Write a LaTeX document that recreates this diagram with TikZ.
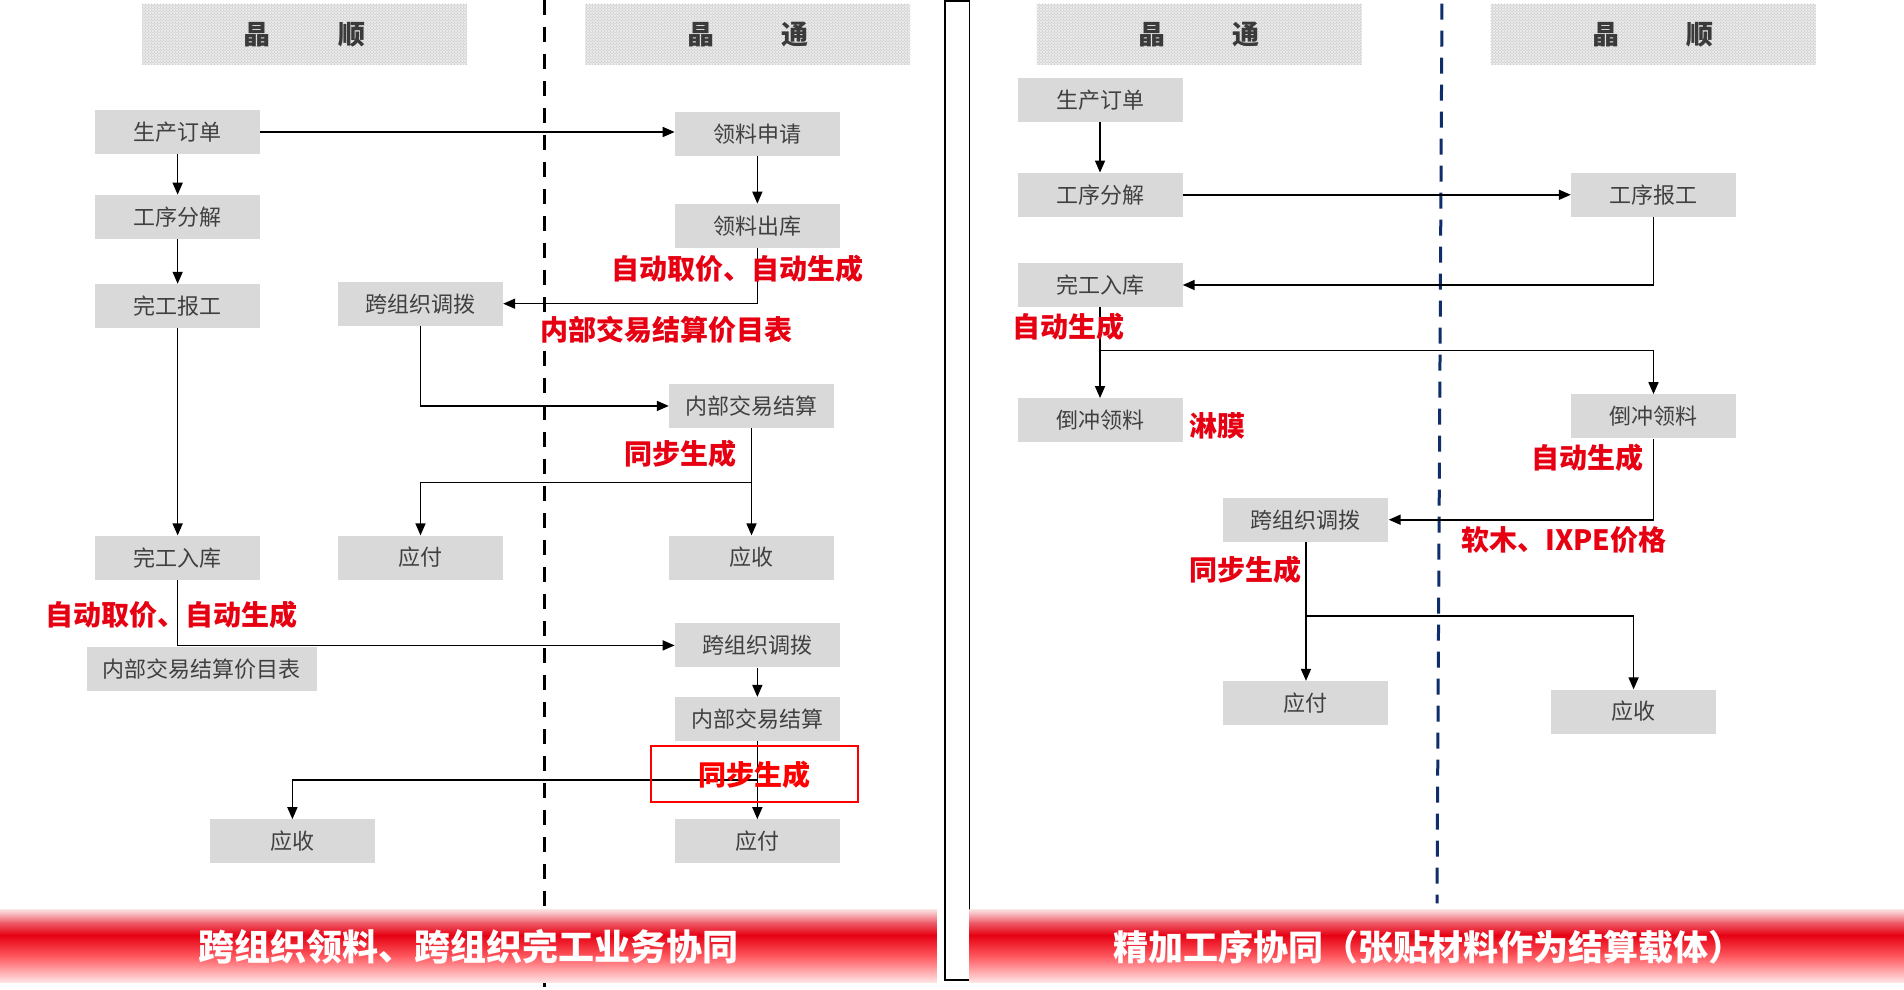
\documentclass[tikz,border=0pt]{standalone}
\usepackage{fontspec}
\setmainfont{Noto Sans CJK SC}
\usetikzlibrary{arrows.meta,patterns}
\definecolor{boxgray}{HTML}{D9D9D9}
\definecolor{txtgray}{HTML}{404040}
\definecolor{lblred}{HTML}{E60012}
\definecolor{navyline}{HTML}{0F2D69}
\definecolor{hdrbase}{HTML}{E9E9E9}
\definecolor{hdrdot}{HTML}{B4B4B4}
\definecolor{hdrtxt}{HTML}{3A3A3A}
\definecolor{barA}{HTML}{FBE6E8}
\definecolor{barB}{HTML}{EE5A68}
\definecolor{barC}{HTML}{E60012}
\definecolor{barD}{HTML}{FF5C62}
\definecolor{barE}{HTML}{FFE2E2}
\tikzset{
  box/.style={fill=boxgray, text=txtgray, minimum width=165pt, minimum height=44pt, inner sep=0pt, font=\fontsize{22}{22}\selectfont},
  hdr/.style={fill=hdrbase, postaction={pattern=crosshatch dots, pattern color=hdrdot}, minimum width=325pt, minimum height=61pt, inner sep=0pt, text=hdrtxt, font=\fontsize{27}{27}\selectfont\bfseries},
  lbl/.style={text=lblred, font=\fontsize{28}{28}\selectfont\bfseries, inner sep=0pt},
  conn/.style={draw=black, line width=1.6pt, -{Triangle[length=12pt,width=10pt]}},
  wire/.style={draw=black, line width=1.6pt},
  bartxt/.style={text=white, font=\fontsize{36}{36}\selectfont\bfseries, inner sep=0pt},
}
\begin{document}
\begin{tikzpicture}[x=1.2143pt,y=-1.2143pt]
\useasboundingbox (0,0) rectangle (1568,815);
\fill[white] (0,0) rectangle (1568,815);

% headers
\node[hdr] (h1) at (250.6,28.4) {晶\hspace{2.5em}顺};
\node[hdr] (h2) at (615.8,28.4) {晶\hspace{2.5em}通};
\node[hdr] (h3) at (987.5,28.4) {晶\hspace{2.5em}通};
\node[hdr] (h4) at (1361.3,28.4) {晶\hspace{2.5em}顺};

% separators
\draw[line width=3pt, dash pattern=on 15pt off 12pt] (448.8,0) coordinate (sl1) -- (448.8,815) coordinate (sl2);
\draw[line width=3pt, navyline, dash pattern=on 16pt off 11pt] (1187.5,3) coordinate (sr1) -- (1183.4,744) coordinate (sr2);
\draw[line width=1.5pt] (778.2,0.8) rectangle (798.4,807);

% left panel boxes
\node[box] (A1) at (146.3,108.7) {生产订单};
\node[box] (A2) at (146.3,178.6) {工序分解};
\node[box] (A3) at (146.3,252) {完工报工};
\node[box] (A4) at (146.3,459.2) {完工入库};
\node[box, minimum width=229.6pt] (A5) at (166.2,551.3) {内部交易结算价目表};
\node[box] (B1) at (346.3,250.1) {跨组织调拨};
\node[box] (B2) at (346.3,459.2) {应付};
\node[box] (B3) at (240.8,692.9) {应收};
\node[box] (C1) at (623.7,110.1) {领料申请};
\node[box] (C2) at (623.7,186) {领料出库};
\node[box] (C3) at (618.9,334.3) {内部交易结算};
\node[box] (C4) at (618.9,459.2) {应收};
\node[box] (C5) at (623.7,531.5) {跨组织调拨};
\node[box] (C6) at (623.7,592.2) {内部交易结算};
\node[box] (C7) at (623.7,692.9) {应付};

% left connectors
\draw[conn] (A1.east) -- (A1.east -| C1.west);
\draw[conn] (A1.south) -- (A2.north);
\draw[conn] (A2.south) -- (A3.north);
\draw[conn] (A3.south) -- (A4.north);
\draw[conn] (C1.south) -- (C2.north);
\draw[conn] (C2.south) |- (B1.east);
\draw[conn] (B1.south) |- (C3.west);
\draw[conn] (C3.south) -- (C4.north);
\coordinate (j1) at (618.9,397.2);
\draw[conn] (j1) -| (B2.north);
\draw[conn] (A4.south) |- (C5.west);
\draw[conn] (C5.south) -- (C6.north);
\draw[conn] (C6.south) -- (C7.north);
\coordinate (j2) at (623.7,642.4);
\draw[conn] (j2) -| (B3.north);

% left labels
\node[lbl] (L1) at (607,221) {自动取价、自动生成};
\node[lbl] (L2) at (549,272) {内部交易结算价目表};
\node[lbl] (L3) at (560,374) {同步生成};
\node[lbl] (L4) at (141.5,506) {自动取价、自动生成};
\node[lbl, text=red] (L5) at (621,638.5) {同步生成};
\node[draw=red, line width=1.6pt, minimum width=207pt, minimum height=55.7pt, inner sep=0pt] (L5box) at (621.1,637.3) {};

% right panel boxes
\node[box] (D1) at (905.9,82.6) {生产订单};
\node[box] (D2) at (905.9,160.4) {工序分解};
\node[box] (D3) at (905.9,234.7) {完工入库};
\node[box] (D4) at (905.9,346.1) {倒冲领料};
\node[box] (E1) at (1361.7,160.4) {工序报工};
\node[box] (E2) at (1361.7,342.9) {倒冲领料};
\node[box] (F1) at (1075.5,428) {跨组织调拨};
\node[box] (F2) at (1075.5,579) {应付};
\node[box] (F3) at (1345.3,586) {应收};

% right connectors
\draw[conn] (D1.south) -- (D2.north);
\draw[conn] (D2.east) -- (E1.west);
\draw[conn] (E1.south) |- (D3.east);
\draw[conn] (D3.south) -- (D4.north);
\coordinate (j3) at (905.9,288.8);
\draw[conn] (j3) -| (E2.north);
\draw[conn] (E2.south) |- (F1.east);
\draw[conn] (F1.south) -- (F2.north);
\coordinate (j4) at (1075.5,507.4);
\draw[conn] (j4) -| (F3.north);

% right labels
\node[lbl] (R1) at (880,269) {自动生成};
\node[lbl] (R2) at (1003,351) {淋膜};
\node[lbl] (R3) at (1307,377) {自动生成};
\node[lbl] (R4) at (1288,445) {软木、IXPE价格};
\node[lbl] (R5) at (1026,469) {同步生成};

% bottom bars
\foreach \xa/\xb in {0/771.6, 798.4/1568} {
  \shade[top color=barA, bottom color=barB] (\xa,748.6) rectangle (\xb,760.3);
  \shade[top color=barB, bottom color=barC] (\xa,760) rectangle (\xb,770.3);
  \shade[top color=barC, bottom color=barD] (\xa,770) rectangle (\xb,788.3);
  \shade[top color=barD, bottom color=barE] (\xa,788) rectangle (\xb,808.7);
}
\node[bartxt] (T1) at (385.5,780) {跨组织领料、跨组织完工业务协同};
\node[bartxt, font=\fontsize{35}{35}\selectfont\bfseries] (T2) at (1176,780) {精加工序协同（张贴材料作为结算载体）};
\end{tikzpicture}
\end{document}
